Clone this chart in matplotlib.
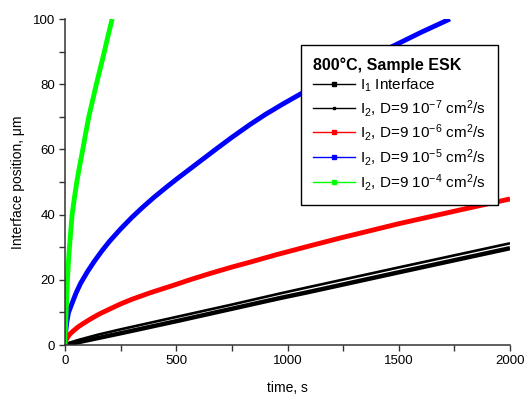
import matplotlib
matplotlib.use("Agg")
import matplotlib.pyplot as plt
from matplotlib.lines import Line2D
from matplotlib.ticker import MultipleLocator

plt.rcParams['font.family'] = ['Liberation Sans', 'DejaVu Sans']
plt.rcParams['mathtext.fontset'] = 'custom'
plt.rcParams['mathtext.rm'] = 'Liberation Sans'
plt.rcParams['mathtext.it'] = 'Liberation Sans'
plt.rcParams['mathtext.bf'] = 'Liberation Sans:bold'

# Data (time in s, interface position in µm)
t_i1 = [0, 250, 500, 966, 1085, 1500, 2000]
y_i1 = [0, 3.6, 7.3, 14.4, 16.1, 22.3, 29.7]

t_d7 = [0, 20, 63, 150, 250, 500, 750, 966, 1085, 1500, 2000]
y_d7 = [0, 0.7, 1.6, 3.2, 4.8, 8.6, 12.4, 15.8, 17.6, 23.8, 31.2]

t_d6 = [0, 3, 10, 20, 37, 60, 82, 120, 157, 200, 250, 300, 382, 450, 500,
        561, 650, 750, 831, 950, 1000, 1100, 1236, 1350, 1500, 1650, 1800, 2000]
y_d6 = [0, 1.2, 2.2, 3.2, 4.3, 5.6, 6.6, 8.2, 9.6, 11.0, 12.6, 14.0, 16.0, 17.5, 18.6,
        20.0, 21.9, 23.9, 25.4, 27.7, 28.6, 30.4, 32.8, 34.7, 37.2, 39.5, 41.8, 44.8]

t_d5 = [0, 3, 8, 16, 30, 50, 70, 100, 130, 165, 200, 250, 300, 350, 400, 450, 500,
        550, 600, 681, 750, 831, 900, 981, 1056, 1150, 1236, 1350, 1475, 1600, 1730]
y_d5 = [0, 4, 7, 10, 12.5, 16, 18.9, 22.4, 25.5, 28.8, 31.8, 35.6, 39.1, 42.3, 45.3, 48.1, 50.8,
        53.4, 56.0, 60.2, 63.7, 67.6, 70.7, 74.0, 76.9, 80.5, 83.6, 87.5, 91.7, 95.9, 100]

t_d4 = [0, 2, 5, 8, 11, 15, 20, 26, 32, 42, 53, 66, 80, 93, 107, 124, 141, 159, 177, 194, 212]
y_d4 = [0, 5, 10, 15, 20, 25, 30, 35, 40, 45, 50, 55, 60, 65, 70, 75, 80, 85, 90, 95, 100]

labels = ['I$_1$ Interface',
          'I$_2$, D=9 10$^{-7}$ cm$^2$/s',
          'I$_2$, D=9 10$^{-6}$ cm$^2$/s',
          'I$_2$, D=9 10$^{-5}$ cm$^2$/s',
          'I$_2$, D=9 10$^{-4}$ cm$^2$/s']
colors = ['black', 'black', '#ff0000', '#0000ff', '#00ff00']
widths = [3.2, 1.9, 3.5, 3.5, 3.5]

fig = plt.figure(figsize=(5.24, 3.96), dpi=100)
ax = fig.add_axes([65/524, 1-345/396, (510-65)/524, (345-19)/396])

series = [(t_i1, y_i1), (t_d7, y_d7), (t_d6, y_d6), (t_d5, y_d5), (t_d4, y_d4)]
for (t, y), c, w in zip(series, colors, widths):
    ax.plot(t, y, color=c, lw=w, solid_capstyle='butt', solid_joinstyle='round')

ax.set_xlim(0, 2000)
ax.set_ylim(0, 100)
ax.xaxis.set_major_locator(MultipleLocator(500))
ax.xaxis.set_minor_locator(MultipleLocator(250))
ax.yaxis.set_major_locator(MultipleLocator(20))
ax.yaxis.set_minor_locator(MultipleLocator(10))
for s in ['top', 'right']:
    ax.spines[s].set_visible(False)
for s in ['left', 'bottom']:
    ax.spines[s].set_color('#333333')
    ax.spines[s].set_linewidth(1.1)
ax.tick_params(which='both', direction='out', length=4, width=1.0, color='#333333',
               labelsize=9.5, pad=3)
ax.set_xlabel('time, s', fontsize=10, labelpad=10)
ax.set_ylabel('Interface position, \u03bcm', fontsize=10, labelpad=6)

msizes = [3, 2, 3, 3, 3]
handles = [Line2D([], [], color=c, lw=1, marker='s', markersize=m)
           for c, m in zip(colors, msizes)]
leg = ax.legend(handles, labels, title='800\u00b0C, Sample ESK',
                loc='upper left', bbox_to_anchor=(301/524, 1-45/396),
                bbox_transform=fig.transFigure, borderaxespad=0,
                fontsize=11, title_fontproperties={'weight': 'bold', 'size': 11.5},
                alignment='left', numpoints=1, handlelength=2.75,
                handletextpad=0.33, labelspacing=0.24, fancybox=False,
                framealpha=1, edgecolor='black', borderpad=0.8)
leg.get_frame().set_linewidth(1.0)

fig.savefig('out.png', dpi=100)
